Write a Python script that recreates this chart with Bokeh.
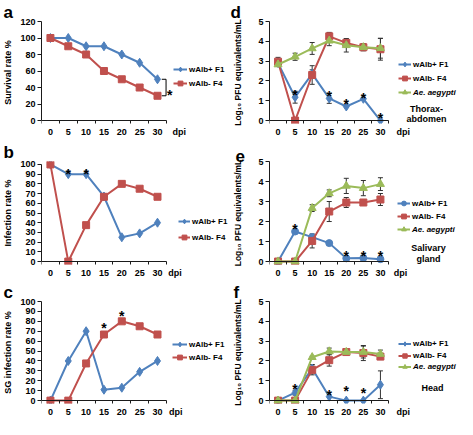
from bokeh.plotting import figure
from bokeh.layouts import gridplot
from bokeh.models import (ColumnDataSource, Whisker, TeeHead, Legend, LegendItem,
                          Label, FixedTicker, Range1d, LinearAxis, Title)
from bokeh.embed import file_html
from bokeh.resources import INLINE

FONT = "Liberation Sans"
BLUE = "#4F81BD"
RED = "#C0504D"
GREEN = "#9BBB59"
INK = "#1a1a1a"

# ---------------- data ----------------
dpi = [0, 5, 10, 15, 20, 25, 30]
dpi_labels = ["0", "5", "10", "15", "20", "25", "30"]
x_title = "dpi"
series_names = ["wAlb+ F1", "wAlb- F4", "Ae. aegypti"]

survival_f1 = [100, 100, 90, 90, 80, 70, 50]
survival_f4 = [100, 90, 80, 60, 50, 40, 30]

infection_f1 = [100, 90, 90, 67, 25, 29, 40]
infection_f4 = [100, 0, 37.5, 66.7, 80, 75, 66.7]

sg_f1 = [0, 40, 70, 11, 13, 29, 40]
sg_f4 = [0, 0, 37.5, 66.7, 80, 75, 66.7]

thorax_f1 = [2.9, 1.18, 2.36, 1.12, 0.71, 1.1, 0.0]
thorax_f1_err = [0, 0.3, 0.2, 0.25, 0, 0, 0]
thorax_f4 = [2.97, 0.0, 2.3, 4.25, 3.92, 3.7, 3.6]
thorax_f4_err = [0.22, 0, 0.47, 0.2, 0.2, 0.12, 0.55]
thorax_ae = [2.83, 3.22, 3.64, 4.03, 3.8, 3.7, 3.65]
thorax_ae_err = [0, 0.18, 0.3, 0.25, 0.34, 0.18, 0.5]

sg_log_f1 = [0, 1.5, 1.22, 0.92, 0.16, 0.18, 0.12]
sg_log_f1_err = [0, 0, 0, 0, 0, 0.12, 0.1]
sg_log_f4 = [0, 0, 1.03, 2.5, 2.95, 2.95, 3.1]
sg_log_f4_err = [0, 0, 0.35, 0.5, 0.25, 0.12, 0.3]
sg_log_ae = [0, 0, 2.67, 3.41, 3.78, 3.67, 3.87]
sg_log_ae_err = [0, 0, 0.17, 0.17, 0.38, 0.38, 0.32]

head_f1 = [0, 0.4, 1.62, 0.2, 0, 0, 0.8]
head_f1_err = [0, 0.12, 0.2, 0, 0, 0, 0.7]
head_f4 = [0, 0, 1.55, 2.04, 2.45, 2.4, 2.22]
head_f4_err = [0, 0, 0.25, 0.3, 0.08, 0.38, 0.15]
head_ae = [0, 0, 2.19, 2.48, 2.45, 2.45, 2.35]
head_ae_err = [0, 0, 0.05, 0.17, 0.1, 0.3, 0.2]

stars_a_x, stars_a_y = [33.4], [38.4]
stars_b_x, stars_b_y = [5, 10], [96, 96]
stars_c_x, stars_c_y = [15, 20], [79, 91]
stars_d_x, stars_d_y = [5, 15, 20, 25, 30], [1.6, 1.54, 1.13, 1.45, 0.42]
stars_e_x, stars_e_y = [5, 20, 25, 30], [1.92, 0.6, 0.6, 0.57]
stars_f_x, stars_f_y = [5, 15, 20, 25], [0.87, 0.6, 0.8, 0.69]

pct120_ticks = [0, 20, 40, 60, 80, 100, 120]
pct100_ticks = [0, 10, 20, 30, 40, 50, 60, 70, 80, 90, 100]
log_ticks = [0, 1, 2, 3, 4, 5]

LOG_LABEL = "Log\u2081\u2080 PFU equivalents/mL"

# --------------- layout geometry (page pixels) ---------------
GEO = {
    "a": dict(fx=8, fy=8, fw=228, fh=140, left=47, top=28, bottom=128, pt=0, pb=3, ylo=0, yhi=120, sx=3.607, dpi_at=36.1, letter=-38),
    "b": dict(fx=8, fy=148, fw=228, fh=140, left=47, top=170, bottom=269, pt=3, pb=3, ylo=0, yhi=100, sx=3.607, dpi_at=34.9, letter=-38),
    "c": dict(fx=8, fy=288, fw=228, fh=139, left=47, top=306, bottom=409, pt=0, pb=3, ylo=0, yhi=100, sx=3.607, dpi_at=35.1, letter=-38),
    "d": dict(fx=236, fy=8, fw=229, fh=140, left=277, top=26, bottom=128, pt=0, pb=3, ylo=0, yhi=5, sx=3.413, dpi_at=36.7, letter=-39),
    "e": dict(fx=236, fy=148, fw=229, fh=140, left=277, top=168, bottom=269, pt=0, pb=3, ylo=0, yhi=5, sx=3.413, dpi_at=35.9, letter=-34),
    "f": dict(fx=236, fy=288, fw=229, fh=139, left=277, top=306, bottom=409, pt=0, pb=3, ylo=0, yhi=5, sx=3.413, dpi_at=36.7, letter=-36),
}


def make_fig(key, yticks, ylabel, label_standoff, label_size="9px"):
    g = GEO[key]
    sy = (g["bottom"] - g["top"]) / (g["yhi"] - g["ylo"])
    x0 = dpi[0] - 2.5
    x1 = x0 + (g["fx"] + g["fw"] - g["left"]) / g["sx"]
    y0 = g["ylo"] - g["pb"] / sy
    y1 = g["yhi"] + g["pt"] / sy
    p = figure(width=g["fw"], height=g["fh"], x_range=Range1d(x0, x1), y_range=Range1d(y0, y1),
               output_backend="svg", toolbar_location=None, title=None,
               min_border_left=g["left"] - g["fx"], min_border_right=0,
               min_border_top=g["top"] - g["pt"] - g["fy"],
               min_border_bottom=g["fy"] + g["fh"] - g["bottom"] - g["pb"])
    p.outline_line_color = None
    p.xgrid.visible = False
    p.ygrid.visible = False
    p.background_fill_color = "white"
    p.border_fill_color = "white"

    # panel letter
    p.add_layout(Title(text=key, align="left", offset=g["letter"], standoff=0,
                       text_font=FONT, text_font_size="17px", text_font_style="bold",
                       text_color="black"), "above")

    # x axis line with category-boundary ticks, sitting at y = 0
    bounds = [d - 2.5 for d in dpi] + [dpi[-1] + 2.5]
    xa = p.xaxis[0]
    xa.ticker = FixedTicker(ticks=[], minor_ticks=bounds)
    xa.bounds = (bounds[0], bounds[-1])
    xa.fixed_location = g["ylo"]
    xa.major_tick_out = 0
    xa.major_tick_in = 0
    xa.minor_tick_out = 4
    xa.minor_tick_in = 0
    xa.minor_tick_line_color = INK
    xa.axis_line_color = INK
    xa.major_label_standoff = 0

    # x tick labels (with the "dpi" axis title at the end)
    xl = LinearAxis(ticker=FixedTicker(ticks=dpi + [g["dpi_at"]], minor_ticks=[]))
    overrides = {d: lab for d, lab in zip(dpi, dpi_labels)}
    overrides[g["dpi_at"]] = x_title
    xl.major_label_overrides = overrides
    xl.bounds = (bounds[0], g["dpi_at"] + 2)
    xl.axis_line_color = None
    xl.major_tick_line_color = None
    xl.minor_tick_line_color = None
    xl.major_tick_out = 0
    xl.major_tick_in = 0
    xl.major_label_standoff = 3
    xl.major_label_text_font = FONT
    xl.major_label_text_font_style = "bold"
    xl.major_label_text_font_size = "9px"
    xl.major_label_text_color = "black"
    p.add_layout(xl, "below")

    ya = p.yaxis[0]
    ya.ticker = FixedTicker(ticks=yticks, minor_ticks=[])
    ya.bounds = (g["ylo"], g["yhi"])
    ya.major_tick_out = 4
    ya.major_tick_in = 0
    ya.major_tick_line_color = INK
    ya.axis_line_color = INK
    ya.major_label_standoff = 2
    ya.major_label_text_font = FONT
    ya.major_label_text_font_style = "bold"
    ya.major_label_text_font_size = "9px"
    ya.major_label_text_color = "black"
    ya.axis_label = ylabel
    ya.axis_label_text_font = FONT
    ya.axis_label_text_font_style = "bold"
    ya.axis_label_text_font_size = label_size
    ya.axis_label_text_color = "black"
    ya.axis_label_standoff = label_standoff

    def dx(px):
        return x0 + (px - g["left"]) / g["sx"]

    def dy(py):
        return g["ylo"] + (g["bottom"] - py) / sy

    p._dx = dx
    p._dy = dy
    return p


def add_series(p, ys, color, marker, size, err=None):
    if err is not None:
        base = [d for d, e in zip(dpi, err) if e > 0]
        up = [v + e for v, e in zip(ys, err) if e > 0]
        lo = [v - e for v, e in zip(ys, err) if e > 0]
        src = ColumnDataSource(dict(base=base, upper=up, lower=lo))
        w = Whisker(source=src, base="base", upper="upper", lower="lower",
                    line_color="#333333", line_width=1,
                    upper_head=TeeHead(size=5, line_color="#333333", line_width=1),
                    lower_head=TeeHead(size=5, line_color="#333333", line_width=1))
        p.add_layout(w)
    lr = p.line(dpi, ys, line_color=color, line_width=2)
    sr = p.scatter(dpi, ys, marker=marker, size=size, fill_color=color, line_color=color)
    return [lr, sr]


def add_legend(p, items, vx, vy, lh, sp, style="bold", gw=14, size="8px"):
    leg = Legend(items=items, location=(vx, vy), orientation="vertical",
                 padding=0, margin=0, spacing=sp, label_height=lh, glyph_height=lh,
                 glyph_width=gw, label_standoff=2,
                 label_text_font=FONT, label_text_font_size=size,
                 label_text_font_style=style, label_text_color="black",
                 border_line_color=None, background_fill_alpha=0)
    p.add_layout(leg)


def add_text(p, px, py, text, size="9px", align="center", baseline="middle"):
    p.add_layout(Label(x=p._dx(px), y=p._dy(py), text=text, text_font=FONT,
                       text_font_size=size, text_font_style="bold", text_color="black",
                       text_align=align, text_baseline=baseline))


def add_stars(p, xs, ys):
    p.text(xs, ys, text=["*"] * len(xs), text_font={"value": FONT},
           text_font_size="14px", text_font_style="bold", text_color="black",
           text_align="center", text_baseline="alphabetic", y_offset=6)


# ---------------- panel a ----------------
pa = make_fig("a", pct120_ticks, "Survival rate %", 4)
ra1 = add_series(pa, survival_f1, BLUE, "diamond", 9)
ra2 = add_series(pa, survival_f4, RED, "square", 7)
bx0 = dpi[-1] + 1.2
bx1 = dpi[-1] + 2.4
pa.line([bx0, bx1, bx1, bx0], [survival_f1[-1], survival_f1[-1], survival_f4[-1], survival_f4[-1]],
        line_color="black", line_width=1)
add_stars(pa, stars_a_x, stars_a_y)
add_legend(pa, [LegendItem(label=series_names[0], renderers=ra1),
                LegendItem(label=series_names[1], renderers=ra2)], 132, 34, 12, 2)

# ---------------- panel b ----------------
pb = make_fig("b", pct100_ticks, "Infection rate %", 4)
rb1 = add_series(pb, infection_f1, BLUE, "diamond", 9)
rb2 = add_series(pb, infection_f4, RED, "square", 7)
add_stars(pb, stars_b_x, stars_b_y)
add_legend(pb, [LegendItem(label=series_names[0], renderers=rb1),
                LegendItem(label=series_names[1], renderers=rb2)], 137, 21, 12, 4, gw=12)

# ---------------- panel c ----------------
pc = make_fig("c", pct100_ticks, "SG infection rate %", 4)
rc1 = add_series(pc, sg_f1, BLUE, "diamond", 9)
rc2 = add_series(pc, sg_f4, RED, "square", 7)
add_stars(pc, stars_c_x, stars_c_y)
add_legend(pc, [LegendItem(label=series_names[0], renderers=rc1),
                LegendItem(label=series_names[1], renderers=rc2)], 131, 40, 12, 1, gw=15)

# ---------------- panel d ----------------
pd_ = make_fig("d", log_ticks, LOG_LABEL, 12, "8.5px")
rd1 = add_series(pd_, thorax_f1, BLUE, "diamond", 9, thorax_f1_err)
rd2 = add_series(pd_, thorax_f4, RED, "square", 7, thorax_f4_err)
rd3 = add_series(pd_, thorax_ae, GREEN, "triangle", 8, thorax_ae_err)
add_stars(pd_, stars_d_x, stars_d_y)
add_legend(pd_, [LegendItem(label=series_names[0], renderers=rd1),
                 LegendItem(label=series_names[1], renderers=rd2)], 129, 39, 12, 2, gw=13)
add_legend(pd_, [LegendItem(label=series_names[2], renderers=rd3)], 129, 25, 12, 2,
           style="bold italic", gw=13)
add_text(pd_, 434, 116, "Thorax-")
add_text(pd_, 434, 126, "abdomen")

# ---------------- panel e ----------------
pe = make_fig("e", log_ticks, LOG_LABEL, 12, "8.5px")
re1 = add_series(pe, sg_log_f1, BLUE, "circle", 7, sg_log_f1_err)
re2 = add_series(pe, sg_log_f4, RED, "square", 7, sg_log_f4_err)
re3 = add_series(pe, sg_log_ae, GREEN, "triangle", 8, sg_log_ae_err)
add_stars(pe, stars_e_x, stars_e_y)
add_legend(pe, [LegendItem(label=series_names[0], renderers=re1),
                LegendItem(label=series_names[1], renderers=re2)], 128, 42, 12, 1, gw=13)
add_legend(pe, [LegendItem(label=series_names[2], renderers=re3)], 128, 29, 12, 1,
           style="bold italic", gw=13)
add_text(pe, 436, 255, "Salivary")
add_text(pe, 436, 266, "gland")

# ---------------- panel f ----------------
pf = make_fig("f", log_ticks, LOG_LABEL, 12, "8.5px")
rf1 = add_series(pf, head_f1, BLUE, "diamond", 9, head_f1_err)
rf2 = add_series(pf, head_f4, RED, "square", 7, head_f4_err)
rf3 = add_series(pf, head_ae, GREEN, "triangle", 8, head_ae_err)
add_stars(pf, stars_f_x, stars_f_y)
add_legend(pf, [LegendItem(label=series_names[0], renderers=rf1),
                LegendItem(label=series_names[1], renderers=rf2)], 129, 42, 11, 1, gw=13)
add_legend(pf, [LegendItem(label=series_names[2], renderers=rf3)], 129, 31, 11, 1,
           style="bold italic", gw=13)
add_text(pf, 440, 396, "Head")

grid = gridplot([[pa, pd_], [pb, pe], [pc, pf]], toolbar_location=None)

open("out.html", "w").write(file_html(grid, INLINE))
